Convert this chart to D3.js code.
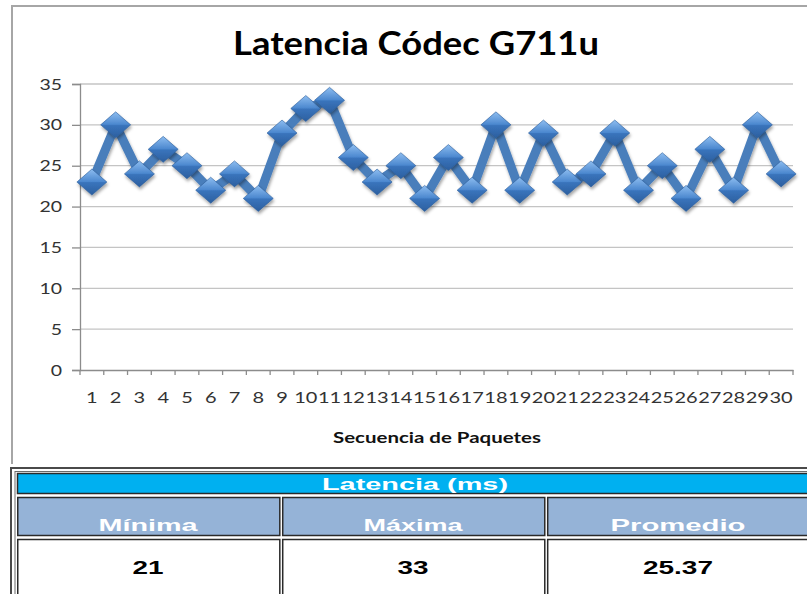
<!DOCTYPE html>
<html>
<head>
<meta charset="utf-8">
<script src="https://cdn.jsdelivr.net/npm/d3@7"></script>
<style>
  html, body { margin: 0; padding: 0; background: #fff; }
  svg { display: block; }
</style>
</head>
<body>
<svg id="chart" width="807" height="594"></svg>
<script>
// ---- Data ----
const chartTitle = "Latencia Códec G711u";
const xAxisTitle = "Secuencia de Paquetes";
const categories = ["1","2","3","4","5","6","7","8","9","10","11","12","13","14","15",
                    "16","17","18","19","20","21","22","23","24","25","26","27","28","29","30"];
const latency = [23,30,24,27,25,22,24,21,29,32,33,26,23,25,21,26,22,30,22,29,23,24,29,22,25,21,27,22,30,24];
const yTicks = [0,5,10,15,20,25,30,35];
const tableTitle = "Latencia (ms)";
const tableHeaders = ["Mínima","Máxima","Promedio"];
const tableValues = ["21","33","25.37"];

// ---- Layout ----
const svg = d3.select("#chart");
const plot = { left: 80, right: 793, top: 84, bottom: 370 };

const defs = svg.append("defs");
const grad = defs.append("linearGradient").attr("id","dg").attr("x1","0").attr("y1","0").attr("x2","0").attr("y2","1");
grad.append("stop").attr("offset","0%").attr("stop-color","#8DBDF0");
grad.append("stop").attr("offset","48%").attr("stop-color","#4C88CF");
grad.append("stop").attr("offset","52%").attr("stop-color","#3A74BC");
grad.append("stop").attr("offset","100%").attr("stop-color","#2B5F9F");
const sh = defs.append("filter").attr("id","sh").attr("x","-30%").attr("y","-30%").attr("width","160%").attr("height","170%");
sh.append("feDropShadow").attr("dx",1).attr("dy",2.5).attr("stdDeviation",1.6).attr("flood-color","#000").attr("flood-opacity",0.35);

svg.append("rect").attr("width",807).attr("height",594).attr("fill","#fff");

// chart frame (left and top edges visible)
svg.append("path").attr("d","M12,464V6H820")
  .attr("fill","none").attr("stroke","#a6a6a6").attr("stroke-width",2);

// title
svg.append("text").attr("x",416).attr("y",55).attr("text-anchor","middle")
  .attr("font-family","Lato, 'Open Sans', sans-serif").attr("font-weight","bold")
  .attr("font-size",32).attr("fill","#000")
  .attr("textLength",366).attr("lengthAdjust","spacingAndGlyphs")
  .text(chartTitle);

// scales
const x = d3.scaleBand().domain(categories).range([plot.left, plot.right]);
const y = d3.scaleLinear().domain([0,35]).range([plot.bottom, plot.top]);

// gridlines
svg.append("g").selectAll("line").data(yTicks.filter(d => d > 0)).join("line")
  .attr("x1",plot.left).attr("x2",plot.right)
  .attr("y1",d => y(d)).attr("y2",d => y(d))
  .attr("stroke","#c4c4c4").attr("stroke-width",1.3);

// y axis
const yAxis = svg.append("g").attr("transform",`translate(${plot.left},0)`)
  .call(d3.axisLeft(y).tickValues(yTicks).tickSize(8).tickPadding(10));
yAxis.select(".domain").attr("stroke","#8c8c8c").attr("stroke-width",1.3);
yAxis.selectAll(".tick line").attr("stroke","#8c8c8c").attr("stroke-width",1.3);
yAxis.selectAll(".tick text")
  .attr("font-family","Lato, sans-serif").attr("font-size",16).attr("fill","#333")
  .attr("textLength",d => String(d).length * 11.3).attr("lengthAdjust","spacingAndGlyphs");

// x axis
const xAxis = svg.append("g").attr("transform",`translate(0,${plot.bottom})`)
  .call(d3.axisBottom(x).tickSize(0).tickPadding(22));
xAxis.select(".domain").attr("stroke","#8c8c8c").attr("stroke-width",1.3);
xAxis.selectAll(".tick text")
  .attr("font-family","Lato, sans-serif").attr("font-size",16).attr("fill","#333")
  .attr("textLength",d => d.length * 11.6).attr("lengthAdjust","spacingAndGlyphs");
// boundary tick marks
const bounds = categories.map(c => x(c)).concat([x(categories[categories.length-1]) + x.bandwidth()]);
svg.append("g").selectAll("line").data(bounds).join("line")
  .attr("x1",d => d).attr("x2",d => d).attr("y1",plot.bottom).attr("y2",plot.bottom + 5)
  .attr("stroke","#8c8c8c").attr("stroke-width",1.3);

// x axis title
svg.append("text").attr("x",437).attr("y",443).attr("text-anchor","middle")
  .attr("font-family","Lato, sans-serif").attr("font-weight","bold").attr("font-size",15)
  .attr("fill","#111").attr("textLength",208).attr("lengthAdjust","spacingAndGlyphs")
  .text(xAxisTitle);

// series line
const pts = categories.map((c,i) => ({ c, v: latency[i] }));
const line = d3.line().x(d => x(d.c) + x.bandwidth()/2).y(d => y(d.v));
svg.append("path").datum(pts).attr("d",line).attr("fill","none")
  .attr("stroke","#4A7EBB").attr("stroke-width",9).attr("stroke-linejoin","round")
  .attr("filter","url(#sh)");

// diamond markers
const hw = 15, hh = 13;
svg.append("g").selectAll("path").data(pts).join("path")
  .attr("d",d => {
    const cx = x(d.c) + x.bandwidth()/2, cy = y(d.v);
    return `M${cx},${cy-hh}L${cx+hw},${cy}L${cx},${cy+hh}L${cx-hw},${cy}Z`;
  })
  .attr("fill","url(#dg)").attr("stroke","#2E5E9A").attr("stroke-width",0.6)
  .attr("filter","url(#sh)");

// ---- Table ----
const tbl = svg.append("g");
tbl.append("rect").attr("x",11).attr("y",468).attr("width",900).attr("height",200)
  .attr("fill","#fff").attr("stroke","#4a4a4a").attr("stroke-width",2);
tbl.append("rect").attr("x",15).attr("y",471.5).attr("width",900).attr("height",200)
  .attr("fill","none").attr("stroke","#6a6a6a").attr("stroke-width",1);

// header row
tbl.append("rect").attr("x",17.5).attr("y",473.5).attr("width",900).attr("height",20)
  .attr("fill","#00B0F0").attr("stroke","#2a2a2a").attr("stroke-width",1.5);
tbl.append("text").attr("x",415).attr("y",490).attr("text-anchor","middle")
  .attr("font-family","'Liberation Sans', Arial, sans-serif").attr("font-weight","bold")
  .attr("font-size",17).attr("fill","#fff")
  .attr("textLength",186).attr("lengthAdjust","spacingAndGlyphs")
  .text(tableTitle);

const col = d3.scaleBand().domain(tableHeaders).range([17, 809]).paddingInner(0.011);
const hdrW = [99, 99, 135];
const valW = [31, 31, 70];

tbl.append("g").selectAll("rect").data(tableHeaders).join("rect")
  .attr("x",d => col(d) + 0.75).attr("y",497.5).attr("width",col.bandwidth()).attr("height",38)
  .attr("fill","#95B3D7").attr("stroke","#2a2a2a").attr("stroke-width",1.5);
tbl.append("g").selectAll("text").data(tableHeaders).join("text")
  .attr("x",d => col(d) + col.bandwidth()/2).attr("y",531).attr("text-anchor","middle")
  .attr("font-family","'Liberation Sans', Arial, sans-serif").attr("font-weight","bold")
  .attr("font-size",17).attr("fill","#fff")
  .attr("textLength",(d,i) => hdrW[i]).attr("lengthAdjust","spacingAndGlyphs")
  .text(d => d);

tbl.append("g").selectAll("rect").data(tableHeaders).join("rect")
  .attr("x",d => col(d) + 0.75).attr("y",539.5).attr("width",col.bandwidth()).attr("height",100)
  .attr("fill","#fff").attr("stroke","#2a2a2a").attr("stroke-width",1.5);
tbl.append("g").selectAll("text").data(tableValues).join("text")
  .attr("x",(d,i) => col(tableHeaders[i]) + col.bandwidth()/2).attr("y",574).attr("text-anchor","middle")
  .attr("font-family","'Liberation Sans', Arial, sans-serif").attr("font-weight","bold")
  .attr("font-size",18).attr("fill","#000")
  .attr("textLength",(d,i) => valW[i]).attr("lengthAdjust","spacingAndGlyphs")
  .text(d => d);
</script>
</body>
</html>
